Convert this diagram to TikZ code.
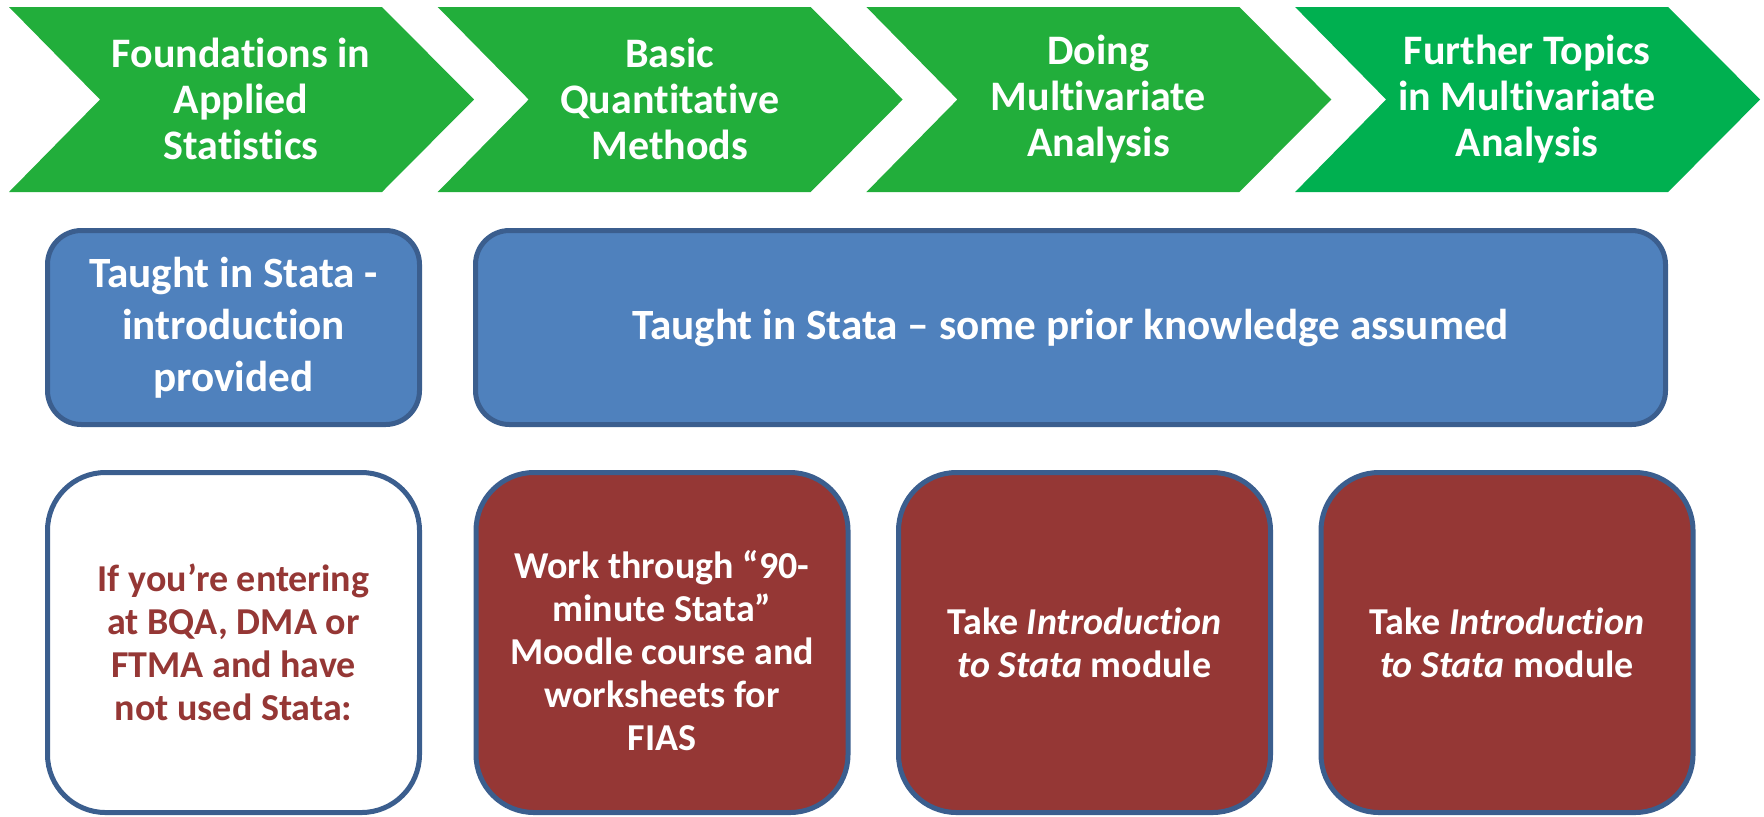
\documentclass[tikz,border=0pt]{standalone}
\usepackage{fontspec}
\setmainfont{Carlito}[Ligatures=NoCommon]
\usetikzlibrary{positioning}

\definecolor{stagegreen}{HTML}{22AE3B}
\definecolor{lastgreen}{HTML}{00B050}
\definecolor{statablue}{HTML}{4F81BD}
\definecolor{edgeblue}{HTML}{3B5E8E}
\definecolor{statared}{HTML}{953735}

\tikzset{
  stagetext/.style={text=white,align=center,font=\bfseries\fontsize{21}{23}\selectfont},
  bluebox/.style={draw=edgeblue,line width=2.5pt,fill=statablue,rounded corners=17pt,
    minimum height=97pt,text=white,align=center,font=\bfseries\fontsize{21.6}{26}\selectfont},
  helpbox/.style={draw=edgeblue,line width=2.5pt,rounded corners=29pt,minimum width=186pt,
    minimum height=170pt,align=center,font=\bfseries\fontsize{19}{21.5}\selectfont},
  redbox/.style={helpbox,fill=statared,text=white},
  whitebox/.style={helpbox,fill=white,text=statared}
}

\begin{document}
\begin{tikzpicture}[x=0.5pt,y=-0.5pt]
  \clip (0,0) rectangle (1764,816);

  % course stages
  \foreach \i/\col in {0/stagegreen,1/stagegreen,2/stagegreen,3/lastgreen}{
    \fill[\col] ({9+428.7*\i},7) -- ({382+428.7*\i},7) -- ({474+428.7*\i},99.5)
      -- ({382+428.7*\i},192) -- ({9+428.7*\i},192) -- ({100+428.7*\i},99.5) -- cycle;
  }
  \node[stagetext] (fias) at (241,99) {Foundations in\\Applied\\Statistics};
  \node[stagetext] (bqm)  at (669.7,99) {Basic\\Quantitative\\Methods};
  \node[stagetext] (dma)  at (1098.4,99) {Doing\\Multivariate\\Analysis};
  \node[stagetext] (ftma) at (1527.1,99) {Further Topics\\in Multivariate\\Analysis};

  % software
  \node[bluebox,minimum width=186pt] (introstata) at (233.5,327.5)
    {Taught in Stata -\\introduction\\provided};
  \node[bluebox,minimum width=595pt] (priorstata) at (1070.5,327.5)
    {Taught in Stata – some prior knowledge assumed};

  % getting started
  \node[whitebox] (entering) at (233.5,642.5)
    {If you’re entering\\at BQA, DMA or\\FTMA and have\\not used Stata:};
  \node[redbox] (ninety) at (662,642.5) {};
  \node[white,align=center,font=\bfseries\fontsize{19}{21.5}\selectfont] (ninetytext) at (662,651)
    {Work through “90-\\minute Stata”\\Moodle course and\\worksheets for\\FIAS};
  \node[redbox] (moduleA) at (1084.5,642.5)
    {Take \textit{Introduction}\\\textit{to Stata} module};
  \node[redbox] (moduleB) at (1507,642.5)
    {Take \textit{Introduction}\\\textit{to Stata} module};
\end{tikzpicture}
\end{document}
